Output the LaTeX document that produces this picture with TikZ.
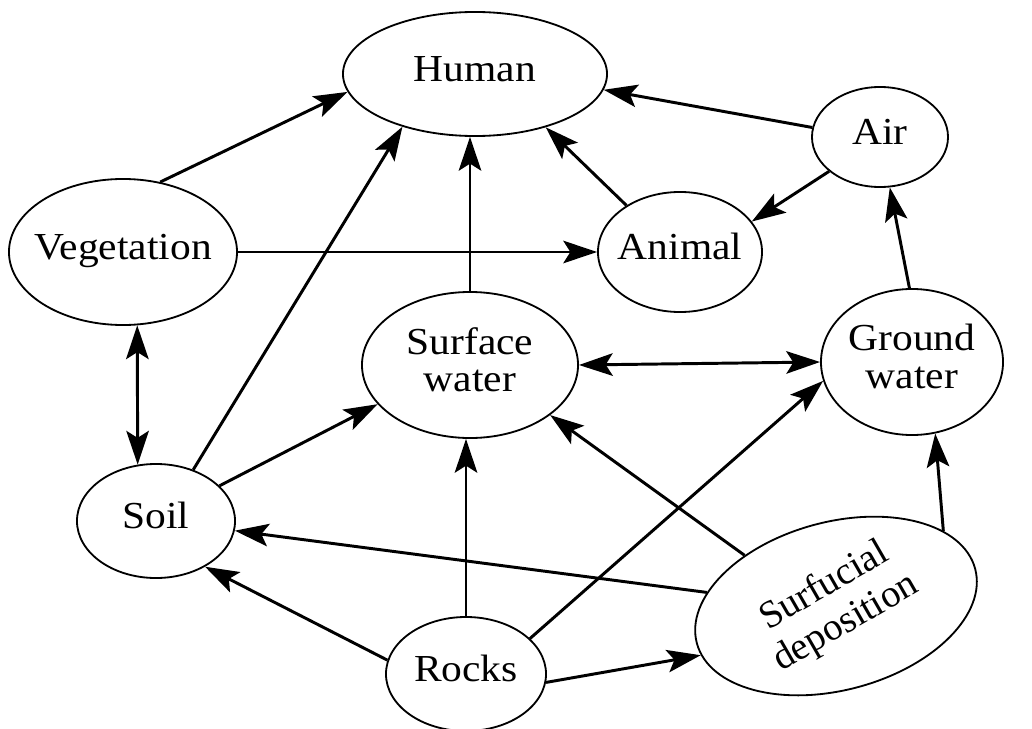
\documentclass[tikz,border=0pt]{standalone}
\usepackage{fontspec}
\setmainfont{Liberation Serif}
\usepackage{graphicx}
\usetikzlibrary{shapes.geometric,arrows.meta}
\newcommand{\lbl}[1]{\makebox[0pt]{\scalebox{1}[0.92]{\begin{tabular}{@{}c@{}}#1\end{tabular}}}}

\begin{document}
\begin{tikzpicture}[x=0.025cm, y=-0.025cm,
    every node/.style={ellipse, draw, line width=1.3pt, inner sep=0pt, font=\fontsize{29.5}{29}\selectfont},
    link/.style={line width=2.1pt, -{Stealth[length=24pt, width=16pt, inset=5pt]}},
    both/.style={line width=2.1pt, {Stealth[length=24pt, width=16pt, inset=5pt]}-{Stealth[length=24pt, width=16pt, inset=5pt]}}]
    \useasboundingbox (0,0) rectangle (1032,729);

    % Top row
    \node[minimum width=6.6cm, minimum height=3.1cm] (human) at (475,74) {\lbl{Human}};
    \node[minimum width=3.4cm, minimum height=2.5cm] (air) at (880,137) {\lbl{Air}};
    \node[minimum width=5.7cm, minimum height=3.65cm] (veg) at (123,252) {\lbl{Vegetation}};
    \node[minimum width=4.1cm, minimum height=3.0cm] (animal) at (680,252) {\lbl{Animal}};

    % Water
    \node[minimum width=5.4cm, minimum height=3.65cm] (surf) at (470,365) {\lbl{Surface\\water}};
    \node[minimum width=4.55cm, minimum height=3.65cm] (ground) at (912,362) {\lbl{Ground\\water}};

    % Bottom row
    \node[minimum width=3.95cm, minimum height=2.85cm] (soil) at (156,521) {\lbl{Soil}};
    \node[minimum width=4.0cm, minimum height=2.85cm] (rocks) at (466,674) {\lbl{Rocks}};
    \node[rotate=15, minimum width=7.2cm, minimum height=4.2cm] (depo) at (836,606) {};
    \node[draw=none, rotate=30, font=\fontsize{27.5}{30}\selectfont] (depotxt) at (depo) {\makebox[0pt]{\begin{tabular}{@{}c@{}}Surfucial\\deposition\end{tabular}}};

    % Arrows into Human
    \draw[link] (veg.62) -- (human.188);
    \draw[link] (soil.54) -- (human.216);
    \draw[link] (surf.north) -- (surf.north |- human.south);
    \draw[link] (animal.139) -- (human.323);
    \draw[link] (air.172) -- (human.353);

    % Air and Animal
    \draw[link] (air.214) -- (animal.23);
    \draw[link] (veg.east) -- (animal.west);
    \draw[link] (ground.92) -- (air.281);

    % Both ways
    \draw[both] (veg.281) -- (soil.108);
    \draw[both] (surf.east) -- (ground.west);

    % Lower arrows
    \draw[link] (soil.29) -- (surf.203);
    \draw[link] (depo.159) -- (soil.353);
    \draw[link] (rocks.170) -- (soil.317);
    \draw[link] (rocks.north) -- (rocks.north |- surf.south);
    \draw[link] (rocks.29) -- (ground.192);
    \draw[link] (rocks.354) -- (depo.185);
    \draw[link] (depo.136) -- (surf.328);
    \draw[link] (depo.20) -- (ground.288);
\end{tikzpicture}
\end{document}
